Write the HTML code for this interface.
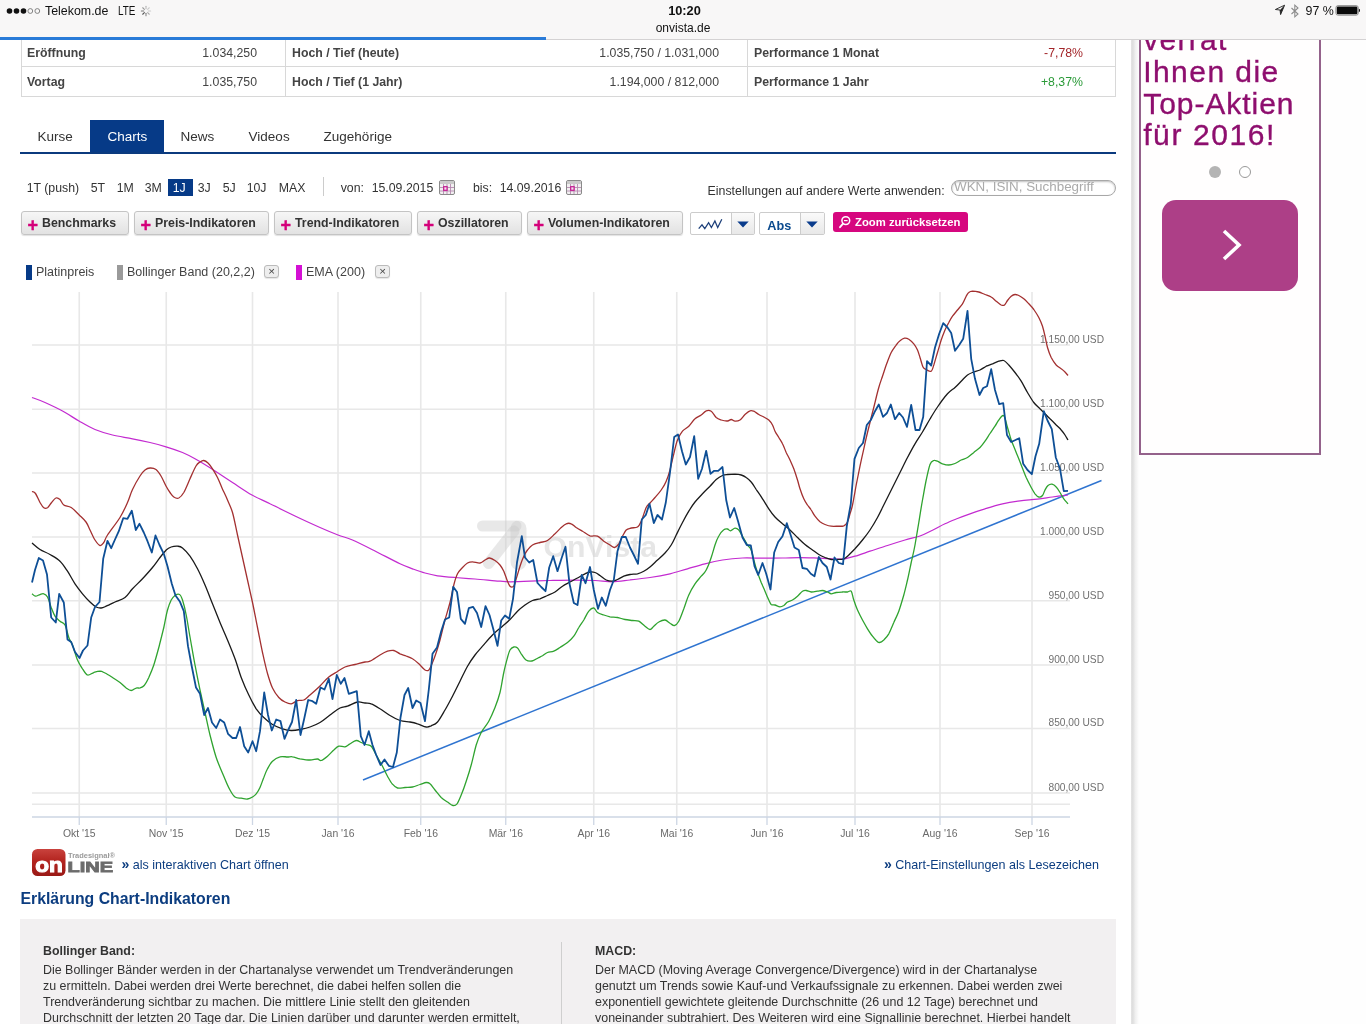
<!DOCTYPE html>
<html><head><meta charset="utf-8">
<style>
*{box-sizing:border-box;margin:0;padding:0}
html,body{width:1366px;height:1024px;overflow:hidden;background:#fff}
body{font-family:"Liberation Sans",sans-serif;color:#333;position:relative;will-change:transform}
.abs{position:absolute;white-space:nowrap}
#status{left:0;top:0;width:1366px;height:39px;background:#f8f7f7}
#prog{left:0;top:37px;width:546px;height:3px;background:#2a7bd8}
#progrest{left:546px;top:39px;width:820px;height:1px;background:#d4d2d3}
.sb{font-size:12.4px;color:#111;top:3.7px}
.tbl{border:1px solid #d6d6d6}
.t{font-size:12.3px;color:#444;line-height:16px}
.b{font-weight:bold}
.tab{font-size:13.5px;color:#333;top:128px;line-height:18px}
.rng{font-size:12.3px;color:#333;top:180px;line-height:16px}
.btn{top:211px;height:24px;border:1px solid #c4c4c4;border-radius:3px;background:linear-gradient(#f6f6f6,#e2e2e2);font-size:12.35px;font-weight:bold;color:#333;line-height:22px;box-shadow:0 1px 1px rgba(0,0,0,.12)}
.btn i{font-style:normal;color:#d4007a;font-size:18px;font-weight:bold;position:absolute;left:5.5px;top:2px;-webkit-text-stroke:.4px #d4007a;line-height:22px}
.btn span{position:absolute;left:20px;top:0}
.sel{top:212px;height:23px;border:1px solid #ccc;border-radius:2px;background:#fff}
.leg{font-size:12.5px;color:#444;top:264px;line-height:16px}
.xb{top:265px;width:15px;height:13px;border:1px solid #bbb;border-radius:3px;background:#eee;font-size:11.5px;line-height:11px;text-align:center;color:#444;font-weight:normal;box-shadow:0 1px 1px rgba(0,0,0,.1)}
.ex{font-size:12.44px;color:#333;line-height:16px}
</style></head><body>

<!-- status bar -->
<div id="status" class="abs"></div>
<div id="progrest" class="abs"></div>
<div id="prog" class="abs"></div>
<svg class="abs" style="left:6px;top:6px" width="36" height="10" viewBox="0 0 36 10">
<circle cx="3.5" cy="5" r="2.8" fill="#111"/><circle cx="10.5" cy="5" r="2.8" fill="#111"/><circle cx="17.5" cy="5" r="2.8" fill="#111"/>
<circle cx="24.3" cy="5" r="2.4" fill="none" stroke="#777" stroke-width="0.9"/><circle cx="31.3" cy="5" r="2.4" fill="none" stroke="#777" stroke-width="0.9"/></svg>
<div class="abs sb" style="left:45px">Telekom.de</div>
<div class="abs sb" style="left:117.5px;transform:scaleX(.8);transform-origin:0 0">LTE</div>
<svg class="abs" style="left:140px;top:5px" width="12" height="12" viewBox="-6 -6 12 12">
<g stroke="#999" stroke-width="1.1" stroke-linecap="round" transform="rotate(-135)">
<line x1="0" y1="-2.3" x2="0" y2="-4.6" stroke="#555"/><line x1="1.6" y1="-1.6" x2="3.3" y2="-3.3" stroke="#777"/><line x1="2.3" y1="0" x2="4.6" y2="0"/><line x1="1.6" y1="1.6" x2="3.3" y2="3.3" stroke="#bbb"/><line x1="0" y1="2.3" x2="0" y2="4.6" stroke="#ccc"/><line x1="-1.6" y1="1.6" x2="-3.3" y2="3.3" stroke="#ccc"/><line x1="-2.3" y1="0" x2="-4.6" y2="0" stroke="#aaa"/><line x1="-1.6" y1="-1.6" x2="-3.3" y2="-3.3" stroke="#888"/></g></svg>
<div class="abs" style="left:584.5px;width:200px;text-align:center;top:3px;font-size:12.8px;font-weight:bold;color:#111">10:20</div>
<div class="abs" style="left:583px;width:200px;text-align:center;top:21px;font-size:12px;color:#111">onvista.de</div>
<svg class="abs" style="left:1274px;top:4px" width="12" height="12" viewBox="0 0 12 12"><path d="M10.6 1.2L1.4 5.5L6 6L6.6 10.6Z" fill="none" stroke="#222" stroke-width="0.9" stroke-linejoin="round"/><path d="M10.6 1.2L6 6L6.6 10.6Z" fill="#222"/></svg>
<svg class="abs" style="left:1290px;top:3.5px" width="10" height="14" viewBox="0 0 10 14"><path d="M1.5 4L8 10L4.8 12.8V1.2L8 4L1.5 10" fill="none" stroke="#8a8a8a" stroke-width="1.05"/></svg>
<div class="abs sb" style="left:1305.5px">97 %</div>
<svg class="abs" style="left:1335px;top:5px" width="27" height="11" viewBox="0 0 27 11"><rect x="0.9" y="0.6" width="22.4" height="9.6" rx="2.2" fill="none" stroke="#777" stroke-width="0.8"/><rect x="1.8" y="1.5" width="20.6" height="7.8" rx="1.3" fill="#0a0a0a"/><path d="M23.9 3.7v3.4c1.5-.2 1.5-3.2 0-3.4z" fill="#111"/></svg>

<!-- table -->
<div class="abs" style="left:21px;top:40px;width:1095px;height:57px;border:1px solid #d8d8d8;border-top:none"></div>
<div class="abs" style="left:22px;top:66px;width:1093px;height:1px;background:#d8d8d8"></div>
<div class="abs" style="left:285px;top:40px;width:1px;height:56px;background:#d8d8d8"></div>
<div class="abs" style="left:747px;top:40px;width:1px;height:56px;background:#d8d8d8"></div>
<div class="abs t b" style="left:27px;top:45px">Eröffnung</div>
<div class="abs t b" style="left:27px;top:74px">Vortag</div>
<div class="abs t" style="left:157px;width:100px;text-align:right;top:45px">1.034,250</div>
<div class="abs t" style="left:157px;width:100px;text-align:right;top:74px">1.035,750</div>
<div class="abs t b" style="left:292px;top:45px">Hoch / Tief (heute)</div>
<div class="abs t b" style="left:292px;top:74px">Hoch / Tief (1 Jahr)</div>
<div class="abs t" style="left:519px;width:200px;text-align:right;top:45px">1.035,750 / 1.031,000</div>
<div class="abs t" style="left:519px;width:200px;text-align:right;top:74px">1.194,000 / 812,000</div>
<div class="abs t b" style="left:754px;top:45px">Performance 1 Monat</div>
<div class="abs t b" style="left:754px;top:74px">Performance 1 Jahr</div>
<div class="abs t" style="left:983px;width:100px;text-align:right;top:45px;color:#a3262a">-7,78%</div>
<div class="abs t" style="left:983px;width:100px;text-align:right;top:74px;color:#2a9a38">+8,37%</div>

<!-- tabs -->
<div class="abs" style="left:90px;top:120px;width:74px;height:33px;background:#063a87"></div>
<div class="abs" style="left:20px;top:152px;width:1096px;height:2px;background:#0b3a7e"></div>
<div class="abs tab" style="left:37.6px">Kurse</div>
<div class="abs tab" style="left:107.6px;color:#fff">Charts</div>
<div class="abs tab" style="left:180.6px">News</div>
<div class="abs tab" style="left:248.6px">Videos</div>
<div class="abs tab" style="left:323.6px">Zugehörige</div>

<!-- range -->
<div class="abs" style="left:168px;top:179px;width:25px;height:17px;background:#063a87"></div>
<div class="abs rng" style="left:26.7px">1T (push)</div>
<div class="abs rng" style="left:90.7px">5T</div>
<div class="abs rng" style="left:116.7px">1M</div>
<div class="abs rng" style="left:144.7px">3M</div>
<div class="abs rng" style="left:172.7px;color:#fff">1J</div>
<div class="abs rng" style="left:197.7px">3J</div>
<div class="abs rng" style="left:222.7px">5J</div>
<div class="abs rng" style="left:246.7px">10J</div>
<div class="abs rng" style="left:278.7px">MAX</div>
<div class="abs" style="left:323px;top:177px;width:1px;height:19px;background:#ccc"></div>
<div class="abs rng" style="left:340.7px">von:</div>
<div class="abs rng" style="left:371.7px">15.09.2015</div>
<div class="abs rng" style="left:473px">bis:</div>
<div class="abs rng" style="left:499.7px">14.09.2016</div>
<svg class="abs" style="left:438.5px;top:180.3px" width="16" height="15" viewBox="0 0 16 15"><rect x="0.5" y="0.5" width="15" height="14" rx="1.5" fill="#f1eff0" stroke="#8a8a8a"/><rect x="1" y="1" width="14" height="3" fill="#c9c9c9"/><path d="M1 7.5H15M1 11H15M4.5 4V14M8 4V14M11.5 4V14" stroke="#b58ab0" stroke-width="0.9"/><rect x="4.7" y="6.7" width="3.4" height="3.6" fill="#f6e0f0" stroke="#c2188f" stroke-width="1.2"/></svg><svg class="abs" style="left:566.0px;top:180.3px" width="16" height="15" viewBox="0 0 16 15"><rect x="0.5" y="0.5" width="15" height="14" rx="1.5" fill="#f1eff0" stroke="#8a8a8a"/><rect x="1" y="1" width="14" height="3" fill="#c9c9c9"/><path d="M1 7.5H15M1 11H15M4.5 4V14M8 4V14M11.5 4V14" stroke="#b58ab0" stroke-width="0.9"/><rect x="4.7" y="6.7" width="3.4" height="3.6" fill="#f6e0f0" stroke="#c2188f" stroke-width="1.2"/></svg>
<div class="abs" style="left:707.5px;top:183px;font-size:12.38px;color:#333;line-height:16px">Einstellungen auf andere Werte anwenden:</div>
<div class="abs" style="left:951px;top:180px;width:165px;height:16px;border:1px solid #a8a8a8;border-radius:8px;box-shadow:inset 0 1px 2px rgba(0,0,0,.25)"></div>
<div class="abs" style="left:954px;top:179px;font-size:13.4px;color:#aaa;line-height:16px">WKN, ISIN, Suchbegriff</div>

<!-- buttons -->
<div class="abs btn" style="left:21px;width:108px"><i>+</i><span>Benchmarks</span></div>
<div class="abs btn" style="left:134px;width:135px"><i>+</i><span>Preis-Indikatoren</span></div>
<div class="abs btn" style="left:274px;width:138px"><i>+</i><span>Trend-Indikatoren</span></div>
<div class="abs btn" style="left:417px;width:105px"><i>+</i><span>Oszillatoren</span></div>
<div class="abs btn" style="left:527px;width:156px"><i>+</i><span>Volumen-Indikatoren</span></div>
<div class="abs sel" style="left:690px;width:65px"></div>
<div class="abs" style="left:731px;top:213px;width:1px;height:21px;background:#ccc"></div>
<div class="abs" style="left:732px;top:213px;width:22px;height:21px;background:linear-gradient(#fafafa,#e8e8e8)"></div>
<svg class="abs" style="left:697px;top:217px" width="27" height="14" viewBox="697 217 27 14"><path d="M698.7 228.6L702 224.8L704.8 228.6L708.6 222.6L711.4 227.5L714.9 220.9L717.7 227.5L721.8 219.3" fill="none" stroke="#1c3f7a" stroke-width="1.25" stroke-linejoin="miter"/></svg>
<svg class="abs" style="left:737px;top:221px" width="12" height="7" viewBox="0 0 12 7"><path d="M0.3 0.4H11.7L6 6.6Z" fill="#0a3c8c"/></svg>
<div class="abs sel" style="left:759px;width:66px"></div>
<div class="abs" style="left:800px;top:213px;width:1px;height:21px;background:#ccc"></div>
<div class="abs" style="left:801px;top:213px;width:23px;height:21px;background:linear-gradient(#fafafa,#e8e8e8)"></div>
<div class="abs" style="left:767.3px;top:217.2px;font-size:12.7px;font-weight:bold;color:#0a4a8e;line-height:18px">Abs</div>
<svg class="abs" style="left:806px;top:221px" width="12" height="7" viewBox="0 0 12 7"><path d="M0.3 0.4H11.7L6 6.6Z" fill="#0a3c8c"/></svg>
<div class="abs" style="left:833px;top:212px;width:135px;height:20px;background:#d6077f;border-radius:3px"></div>
<svg class="abs" style="left:838px;top:215px" width="14" height="14" viewBox="0 0 14 14"><circle cx="7.8" cy="5.6" r="3.9" fill="none" stroke="#fff" stroke-width="1.5"/><path d="M5 8.6L2 12.2" stroke="#fff" stroke-width="1.8" stroke-linecap="round"/><path d="M6 5.6H9.6" stroke="#fff" stroke-width="1.2"/></svg>
<div class="abs" style="left:855px;top:214px;font-size:11.3px;font-weight:bold;color:#fff;line-height:16px">Zoom zurücksetzen</div>

<!-- legend -->
<div class="abs" style="left:26px;top:265px;width:6px;height:15px;background:#063a87"></div>
<div class="abs leg" style="left:36px">Platinpreis</div>
<div class="abs" style="left:117px;top:265px;width:6px;height:15px;background:#9a9a9a"></div>
<div class="abs leg" style="left:127px">Bollinger Band (20,2,2)</div>
<div class="abs xb" style="left:264px">×</div>
<div class="abs" style="left:296px;top:265px;width:6px;height:15px;background:#d410d4"></div>
<div class="abs leg" style="left:306px">EMA (200)</div>
<div class="abs xb" style="left:375px">×</div>

<!-- chart -->
<svg class="abs" style="left:0;top:0" width="1366" height="1024" viewBox="0 0 1366 1024">
<path d="M79.25 292V817M166.25 292V817M252.50 292V817M338.00 292V817M420.75 292V817M505.75 292V817M593.75 292V817M676.75 292V817M767.00 292V817M855.00 292V817M940.00 292V817M1032.00 292V817M32 345.00H1070M32 409.25H1070M32 473.00H1070M32 537.00H1070M32 600.75H1070M32 665.00H1070M32 728.50H1070M32 793.00H1070M32 804.25H1070" fill="none" stroke="#e8e8e8" stroke-width="1.6"/>
<path d="M32 817H1070M79.25 817V825M166.25 817V825M252.50 817V825M338.00 817V825M420.75 817V825M505.75 817V825M593.75 817V825M676.75 817V825M767.00 817V825M855.00 817V825M940.00 817V825M1032.00 817V825" fill="none" stroke="#cdd6e4" stroke-width="1.3"/>
<g fill="none" stroke="#c8c8c8" stroke-opacity="0.42" stroke-linecap="round"><path d="M482.5 526H516" stroke-width="11"/><path d="M518.5 528.5V562" stroke-width="16"/><path d="M514 531L488.5 563.5" stroke-width="11"/></g>
<text x="543.5" y="557.3" font-family="Liberation Sans" font-weight="bold" font-size="29" fill="#d2d2d2" fill-opacity="0.55" textLength="113.5" lengthAdjust="spacingAndGlyphs">OnVista</text>
<text x="79.2" y="836.6" font-size="10.4" fill="#6a6a6a" text-anchor="middle">Okt '15</text><text x="166.2" y="836.6" font-size="10.4" fill="#6a6a6a" text-anchor="middle">Nov '15</text><text x="252.5" y="836.6" font-size="10.4" fill="#6a6a6a" text-anchor="middle">Dez '15</text><text x="338.0" y="836.6" font-size="10.4" fill="#6a6a6a" text-anchor="middle">Jan '16</text><text x="420.8" y="836.6" font-size="10.4" fill="#6a6a6a" text-anchor="middle">Feb '16</text><text x="505.8" y="836.6" font-size="10.4" fill="#6a6a6a" text-anchor="middle">Mär '16</text><text x="593.8" y="836.6" font-size="10.4" fill="#6a6a6a" text-anchor="middle">Apr '16</text><text x="676.8" y="836.6" font-size="10.4" fill="#6a6a6a" text-anchor="middle">Mai '16</text><text x="767.0" y="836.6" font-size="10.4" fill="#6a6a6a" text-anchor="middle">Jun '16</text><text x="855.0" y="836.6" font-size="10.4" fill="#6a6a6a" text-anchor="middle">Jul '16</text><text x="940.0" y="836.6" font-size="10.4" fill="#6a6a6a" text-anchor="middle">Aug '16</text><text x="1032.0" y="836.6" font-size="10.4" fill="#6a6a6a" text-anchor="middle">Sep '16</text>
<text x="1104" y="342.8" font-size="10.2" fill="#707070" text-anchor="end">1.150,00 USD</text><text x="1104" y="407.1" font-size="10.2" fill="#707070" text-anchor="end">1.100,00 USD</text><text x="1104" y="470.8" font-size="10.2" fill="#707070" text-anchor="end">1.050,00 USD</text><text x="1104" y="534.8" font-size="10.2" fill="#707070" text-anchor="end">1.000,00 USD</text><text x="1104" y="598.5" font-size="10.2" fill="#707070" text-anchor="end">950,00 USD</text><text x="1104" y="662.8" font-size="10.2" fill="#707070" text-anchor="end">900,00 USD</text><text x="1104" y="726.3" font-size="10.2" fill="#707070" text-anchor="end">850,00 USD</text><text x="1104" y="790.8" font-size="10.2" fill="#707070" text-anchor="end">800,00 USD</text>
<path d="M363 780L1101.5 480.5" stroke="#2f74d0" stroke-width="1.5" fill="none"/>
<path d="M32.0 397.5C34.2 398.3 39.9 400.2 45.0 402.5C50.1 404.8 56.8 407.9 62.5 411.0C68.2 414.1 73.6 417.9 79.0 421.0C84.4 424.1 89.4 427.2 95.0 429.5C100.6 431.8 106.2 433.5 112.5 435.0C118.8 436.5 126.2 437.5 132.5 438.8C138.8 440.0 144.4 441.2 150.0 442.5C155.6 443.8 160.6 445.1 166.0 446.8C171.4 448.4 177.7 450.5 182.5 452.5C187.3 454.5 189.6 455.7 195.0 458.8C200.4 461.8 208.8 467.0 215.0 471.0C221.2 475.0 226.3 478.5 232.5 482.5C238.7 486.5 245.8 491.5 252.0 495.0C258.2 498.5 262.8 500.2 270.0 503.8C277.2 507.2 286.7 512.0 295.0 516.0C303.3 520.0 312.8 524.3 320.0 527.5C327.2 530.7 332.6 532.9 338.0 535.0C343.4 537.1 346.3 537.3 352.5 540.0C358.7 542.7 367.1 547.0 375.0 551.0C382.9 555.0 393.8 560.8 400.0 563.8C406.2 566.7 408.3 567.2 412.5 568.8C416.7 570.3 420.8 571.8 425.0 573.0C429.2 574.2 432.5 575.0 437.5 575.8C442.5 576.5 448.8 577.0 455.0 577.5C461.2 578.0 468.3 578.5 475.0 579.0C481.7 579.5 489.2 580.3 495.0 580.8C500.8 581.2 504.2 581.7 510.0 581.8C515.8 581.8 523.3 581.5 530.0 581.2C536.7 581.0 542.5 580.7 550.0 580.5C557.5 580.3 567.5 580.0 575.0 580.0C582.5 580.0 588.8 580.2 595.0 580.5C601.2 580.8 606.7 581.8 612.5 581.8C618.3 581.7 623.8 580.7 630.0 580.0C636.2 579.3 643.3 578.5 650.0 577.5C656.7 576.5 663.8 575.2 670.0 573.8C676.2 572.3 681.7 570.4 687.5 568.8C693.3 567.1 699.2 565.2 705.0 563.8C710.8 562.3 716.2 561.0 722.5 560.0C728.8 559.0 735.8 558.3 742.5 558.0C749.2 557.7 755.8 558.2 762.5 558.2C769.2 558.2 776.2 558.1 782.5 558.0C788.8 557.9 793.8 557.5 800.0 557.5C806.2 557.5 814.2 558.0 820.0 558.2C825.8 558.5 830.8 559.2 835.0 559.2C839.2 559.3 841.7 559.2 845.0 558.8C848.3 558.2 850.8 557.5 855.0 556.2C859.2 555.0 864.6 553.0 870.0 551.2C875.4 549.5 881.7 547.4 887.5 545.5C893.3 543.6 899.6 541.6 905.0 540.0C910.4 538.4 915.4 537.6 920.0 536.0C924.6 534.4 928.3 532.3 932.5 530.2C936.7 528.2 940.8 525.7 945.0 523.8C949.2 521.8 953.3 520.2 957.5 518.5C961.7 516.8 965.4 515.4 970.0 513.8C974.6 512.1 979.6 510.4 985.0 508.8C990.4 507.1 996.7 505.1 1002.5 503.8C1008.3 502.4 1014.2 501.5 1020.0 500.8C1025.8 500.0 1032.1 499.9 1037.5 499.2C1042.9 498.6 1047.4 497.7 1052.5 497.0C1057.6 496.3 1065.4 495.3 1068.0 495.0" fill="none" stroke="#c32bd0" stroke-width="1.25" stroke-linejoin="round"/>
<path d="M32.0 593.8C32.6 594.2 34.2 596.1 35.5 596.2C36.8 596.4 38.6 594.9 40.0 594.5C41.4 594.1 42.5 593.3 43.8 593.8C45.0 594.2 46.2 594.7 47.5 597.0C48.8 599.3 50.0 604.3 51.2 607.5C52.5 610.7 53.5 614.0 55.0 616.2C56.5 618.5 58.3 619.8 60.0 621.2C61.7 622.7 63.5 622.3 65.0 625.0C66.5 627.7 67.5 634.2 68.8 637.5C70.0 640.8 71.0 641.2 72.5 645.0C74.0 648.8 75.8 656.0 77.5 660.0C79.2 664.0 80.8 666.2 82.5 668.8C84.2 671.2 85.6 674.4 87.5 675.0C89.4 675.6 91.7 673.1 93.8 672.5C95.8 671.9 98.1 671.2 100.0 671.2C101.9 671.3 102.9 672.0 105.0 673.0C107.1 674.0 110.0 675.9 112.5 677.5C115.0 679.1 117.7 680.8 120.0 682.5C122.3 684.2 124.4 686.7 126.2 688.0C128.1 689.3 129.6 690.5 131.2 690.5C132.9 690.5 134.8 688.4 136.2 688.0C137.7 687.6 138.7 688.4 140.0 688.0C141.3 687.6 142.8 687.2 144.2 685.5C145.7 683.8 147.2 680.9 148.8 677.5C150.3 674.1 152.1 670.0 153.8 665.0C155.4 660.0 157.1 653.8 158.8 647.5C160.4 641.2 162.3 633.8 163.8 627.5C165.2 621.2 166.2 614.6 167.5 610.0C168.8 605.4 170.0 602.4 171.2 600.0C172.5 597.6 173.6 596.4 175.0 595.5C176.4 594.6 178.2 593.8 179.5 594.5C180.8 595.2 181.4 596.6 182.5 600.0C183.6 603.4 185.0 608.8 186.2 615.0C187.5 621.2 188.5 628.7 190.0 637.0C191.5 645.3 193.3 656.2 195.0 665.0C196.7 673.8 198.3 682.1 200.0 690.0C201.7 697.9 203.3 705.0 205.0 712.5C206.7 720.0 208.1 727.5 210.0 735.0C211.9 742.5 214.0 750.6 216.2 757.5C218.5 764.4 221.5 770.8 223.8 776.2C226.0 781.7 228.1 786.5 230.0 790.0C231.9 793.5 233.1 795.6 235.0 797.0C236.9 798.4 239.2 797.9 241.2 798.2C243.3 798.6 245.6 799.2 247.5 799.0C249.4 798.8 251.0 797.9 252.5 797.0C254.0 796.1 255.0 795.3 256.2 793.8C257.5 792.2 258.8 790.2 260.0 787.5C261.2 784.8 262.5 780.6 263.8 777.5C265.0 774.4 266.0 771.5 267.5 768.8C269.0 766.0 270.4 763.2 272.5 761.2C274.6 759.2 277.5 757.5 280.0 756.8C282.5 756.0 285.4 757.0 287.5 757.0C289.6 757.0 290.4 756.5 292.5 756.8C294.6 757.0 297.1 758.2 300.0 758.8C302.9 759.3 307.1 760.0 310.0 760.0C312.9 760.0 315.6 758.9 317.5 759.0C319.4 759.1 319.6 761.0 321.2 760.5C322.9 760.0 325.4 758.0 327.5 756.2C329.6 754.5 331.9 751.7 333.8 750.0C335.6 748.3 336.9 746.8 338.8 746.2C340.6 745.7 343.1 747.2 345.0 746.8C346.9 746.3 348.1 744.8 350.0 743.8C351.9 742.7 354.4 740.7 356.2 740.5C358.1 740.3 359.6 741.8 361.2 742.5C362.9 743.2 364.6 743.9 366.2 744.5C367.9 745.1 369.6 744.5 371.2 746.2C372.9 748.0 374.4 751.7 376.2 755.0C378.1 758.3 380.6 762.7 382.5 766.2C384.4 769.8 385.8 773.2 387.5 776.2C389.2 779.2 390.8 782.3 392.5 784.2C394.2 786.2 395.4 787.5 397.5 788.0C399.6 788.5 402.5 787.7 405.0 787.5C407.5 787.3 410.0 787.5 412.5 787.0C415.0 786.5 417.7 785.2 420.0 784.5C422.3 783.8 424.6 782.6 426.2 782.5C427.9 782.4 428.5 782.5 430.0 783.8C431.5 785.0 433.1 787.7 435.0 790.0C436.9 792.3 439.2 795.5 441.2 797.5C443.3 799.5 445.5 800.7 447.5 802.0C449.5 803.3 451.4 805.2 453.0 805.5C454.6 805.8 455.6 805.5 457.0 803.8C458.4 802.0 459.7 798.8 461.2 795.0C462.8 791.2 464.6 786.2 466.2 781.2C467.9 776.2 469.6 771.0 471.2 765.0C472.9 759.0 474.6 750.4 476.2 745.0C477.9 739.6 479.2 736.5 481.2 732.5C483.3 728.5 486.5 725.4 488.8 721.2C491.0 717.1 493.1 712.3 495.0 707.5C496.9 702.7 498.5 698.3 500.0 692.5C501.5 686.7 502.5 678.3 503.8 672.5C505.0 666.7 506.5 661.2 507.5 657.5C508.5 653.8 509.0 651.8 510.0 650.0C511.0 648.2 512.5 647.3 513.8 647.0C515.0 646.7 516.2 646.9 517.5 648.0C518.8 649.1 519.8 651.8 521.2 653.8C522.7 655.8 524.2 658.8 526.0 660.0C527.8 661.2 530.0 661.3 532.0 661.0C534.0 660.7 536.2 658.9 538.0 658.0C539.8 657.1 540.9 656.7 542.5 655.8C544.1 654.8 545.6 653.2 547.5 652.5C549.4 651.8 551.7 652.1 553.8 651.2C555.8 650.4 557.7 649.0 560.0 647.5C562.3 646.0 565.2 644.4 567.5 642.5C569.8 640.6 571.9 638.8 573.8 636.2C575.6 633.8 577.1 630.2 578.8 627.5C580.4 624.8 582.1 622.7 583.8 620.0C585.4 617.3 587.1 613.2 588.8 611.2C590.4 609.2 592.3 607.8 593.8 608.0C595.2 608.2 595.8 611.3 597.5 612.5C599.2 613.7 601.7 614.3 603.8 615.0C605.8 615.7 607.7 616.3 610.0 616.8C612.3 617.2 615.0 617.0 617.5 617.5C620.0 618.0 622.5 619.0 625.0 619.5C627.5 620.0 630.2 620.2 632.5 620.5C634.8 620.8 636.7 620.3 638.8 621.2C640.8 622.2 643.1 624.9 645.0 626.2C646.9 627.6 648.5 629.5 650.0 629.5C651.5 629.5 652.3 627.5 653.8 626.2C655.2 625.0 656.9 623.0 658.8 622.0C660.6 621.0 663.1 619.8 665.0 620.0C666.9 620.2 668.4 622.3 670.0 623.2C671.6 624.2 673.0 625.8 674.5 625.5C676.0 625.2 677.2 624.0 678.8 621.2C680.3 618.5 682.1 613.1 683.8 608.8C685.4 604.4 686.9 599.2 688.8 595.0C690.6 590.8 692.9 586.9 695.0 583.8C697.1 580.6 699.4 578.5 701.2 576.2C703.1 574.0 704.6 573.1 706.2 570.0C707.9 566.9 709.8 561.7 711.2 557.5C712.7 553.3 713.8 548.6 715.0 545.0C716.2 541.4 717.3 538.5 718.8 536.0C720.2 533.5 722.3 530.9 723.8 529.8C725.2 528.6 726.4 528.8 727.5 529.0C728.6 529.2 729.2 530.9 730.5 530.8C731.8 530.6 733.6 528.4 735.0 528.2C736.4 528.1 737.5 528.7 738.8 530.0C740.0 531.3 741.0 533.8 742.5 536.2C744.0 538.8 746.0 542.7 747.5 545.0C749.0 547.3 750.2 547.5 751.2 550.0C752.3 552.5 752.7 556.2 753.8 560.0C754.8 563.8 756.2 568.8 757.5 572.5C758.8 576.2 760.0 579.4 761.2 582.5C762.5 585.6 763.8 588.3 765.0 591.2C766.2 594.2 767.7 597.8 768.8 600.0C769.8 602.2 770.2 603.7 771.2 604.5C772.3 605.3 773.5 604.6 775.0 605.0C776.5 605.4 778.5 606.7 780.0 606.8C781.5 606.8 782.5 606.3 783.8 605.5C785.0 604.7 786.0 602.9 787.5 602.0C789.0 601.1 790.8 601.0 792.5 600.0C794.2 599.0 795.8 597.7 797.5 596.2C799.2 594.8 801.0 592.2 802.5 591.2C804.0 590.3 804.8 590.4 806.2 590.5C807.7 590.6 809.4 591.9 811.2 592.0C813.1 592.1 815.6 591.5 817.5 591.2C819.4 591.0 820.8 590.4 822.5 590.5C824.2 590.6 826.0 591.5 827.5 592.0C829.0 592.5 829.8 593.7 831.2 593.8C832.7 593.8 834.4 592.8 836.2 592.5C838.1 592.2 840.6 592.1 842.5 592.0C844.4 591.9 846.0 592.1 847.5 592.0C849.0 591.9 850.2 589.9 851.2 591.2C852.3 592.6 852.7 596.9 853.8 600.0C854.8 603.1 856.0 606.7 857.5 610.0C859.0 613.3 860.8 616.9 862.5 620.0C864.2 623.1 865.8 626.0 867.5 628.8C869.2 631.5 871.0 634.3 872.5 636.2C874.0 638.2 875.1 639.5 876.2 640.5C877.4 641.5 878.2 642.6 879.5 642.5C880.8 642.4 882.2 641.5 883.8 640.0C885.3 638.5 887.1 636.7 888.8 633.8C890.4 630.8 892.1 626.2 893.8 622.5C895.4 618.8 897.1 615.8 898.8 611.2C900.4 606.7 902.3 600.2 903.8 595.0C905.2 589.8 906.2 585.4 907.5 580.0C908.8 574.6 910.0 568.3 911.2 562.5C912.5 556.7 913.8 551.7 915.0 545.0C916.2 538.3 917.5 530.0 918.8 522.5C920.0 515.0 921.2 507.1 922.5 500.0C923.8 492.9 925.0 485.9 926.2 480.0C927.5 474.1 928.8 467.8 930.0 464.5C931.2 461.2 932.5 461.0 933.8 460.5C935.0 460.0 936.0 460.7 937.5 461.2C939.0 461.8 940.6 463.1 942.5 463.8C944.4 464.4 946.7 465.0 948.8 465.0C950.8 465.0 952.9 464.3 955.0 463.5C957.1 462.7 959.2 461.0 961.2 460.0C963.3 459.0 965.4 458.8 967.5 457.5C969.6 456.2 971.7 454.2 973.8 452.5C975.8 450.8 978.1 449.4 980.0 447.5C981.9 445.6 983.3 443.6 985.0 441.2C986.7 438.9 988.3 436.0 990.0 433.5C991.7 431.0 993.5 428.5 995.0 426.2C996.5 424.0 997.3 421.8 998.8 420.0C1000.2 418.2 1002.3 414.5 1003.8 415.8C1005.2 417.0 1006.2 423.5 1007.5 427.5C1008.8 431.5 1009.8 435.8 1011.2 440.0C1012.7 444.2 1014.6 448.3 1016.2 452.5C1017.9 456.7 1019.6 460.8 1021.2 465.0C1022.9 469.2 1024.6 473.8 1026.2 477.5C1027.9 481.2 1029.8 484.8 1031.2 487.5C1032.7 490.2 1033.8 492.2 1035.0 493.8C1036.2 495.3 1037.5 496.7 1038.8 497.0C1040.0 497.3 1041.5 496.7 1042.5 495.5C1043.5 494.3 1044.1 491.7 1045.0 490.0C1045.9 488.3 1046.8 486.5 1048.0 485.5C1049.2 484.5 1050.6 484.0 1052.0 484.2C1053.4 484.5 1054.9 485.6 1056.2 487.0C1057.6 488.4 1058.8 490.5 1060.0 492.5C1061.2 494.5 1062.4 496.9 1063.8 498.8C1065.1 500.6 1067.3 502.9 1068.0 503.8" fill="none" stroke="#2fa32f" stroke-width="1.3" stroke-linejoin="round"/>
<path d="M32.0 491.5C32.6 491.8 34.2 491.7 35.5 493.5C36.8 495.3 38.6 500.1 40.0 502.5C41.4 504.9 42.5 506.9 43.8 507.8C45.0 508.6 46.2 508.5 47.5 507.8C48.8 507.0 49.9 504.6 51.2 503.0C52.6 501.4 54.3 498.6 55.8 498.0C57.2 497.4 58.7 498.3 60.0 499.5C61.3 500.7 61.9 503.7 63.8 505.0C65.6 506.3 68.7 505.8 71.2 507.5C73.8 509.2 76.8 512.6 79.2 515.0C81.7 517.4 84.2 519.5 86.0 522.0C87.8 524.5 88.5 527.0 90.0 530.0C91.5 533.0 93.3 537.4 95.0 540.0C96.7 542.6 98.5 545.1 100.0 545.5C101.5 545.9 102.5 544.2 103.8 542.5C105.0 540.8 104.8 539.2 107.5 535.0C110.2 530.8 116.7 522.9 120.0 517.5C123.3 512.1 125.4 507.2 127.5 502.5C129.6 497.8 130.4 493.9 132.5 489.5C134.6 485.1 137.9 479.2 140.0 476.0C142.1 472.8 143.3 471.3 145.0 470.0C146.7 468.7 148.2 468.1 150.0 468.0C151.8 467.9 154.2 468.2 156.0 469.5C157.8 470.8 159.3 473.2 161.0 476.0C162.7 478.8 164.5 483.2 166.0 486.0C167.5 488.8 168.7 490.7 170.0 492.5C171.3 494.3 172.3 496.1 173.8 497.0C175.2 497.9 177.1 498.8 178.8 498.0C180.4 497.2 181.9 495.7 183.8 492.5C185.6 489.3 188.0 483.2 190.0 478.8C192.0 474.3 194.3 468.8 196.0 466.0C197.7 463.2 198.7 462.9 200.0 462.0C201.3 461.1 202.4 460.3 203.8 460.5C205.1 460.7 206.5 461.6 208.0 463.0C209.5 464.4 210.9 466.3 212.5 468.8C214.1 471.2 215.9 474.3 217.5 477.5C219.1 480.7 220.3 484.2 222.0 488.0C223.7 491.8 225.8 495.9 227.5 500.0C229.2 504.1 230.8 506.7 232.5 512.5C234.2 518.3 235.8 527.5 237.5 535.0C239.2 542.5 240.8 550.0 242.5 557.5C244.2 565.0 245.8 572.5 247.5 580.0C249.2 587.5 250.8 594.6 252.5 602.5C254.2 610.4 255.8 619.2 257.5 627.5C259.2 635.8 260.8 644.8 262.5 652.5C264.2 660.2 265.8 667.6 267.5 673.5C269.2 679.4 270.6 684.0 272.5 688.0C274.4 692.0 276.7 695.2 278.8 697.5C280.8 699.8 282.9 701.0 285.0 702.0C287.1 703.0 289.2 704.0 291.2 703.8C293.3 703.5 295.4 701.1 297.5 700.5C299.6 699.9 301.7 700.9 303.8 700.0C305.8 699.1 307.3 697.3 310.0 695.0C312.7 692.7 316.9 689.0 320.0 686.0C323.1 683.0 325.8 679.4 328.8 677.0C331.7 674.6 334.8 673.2 337.5 671.5C340.2 669.8 342.1 668.2 345.0 667.0C347.9 665.8 351.7 665.3 355.0 664.5C358.3 663.7 362.5 662.5 365.0 662.0C367.5 661.5 367.5 662.4 370.0 661.2C372.5 660.1 377.1 656.7 380.0 655.0C382.9 653.3 385.2 652.0 387.5 651.2C389.8 650.5 391.7 650.1 393.8 650.5C395.8 650.9 397.9 652.8 400.0 653.8C402.1 654.7 404.2 655.2 406.2 656.0C408.3 656.8 410.4 657.5 412.5 658.8C414.6 660.0 416.7 661.9 418.8 663.8C420.8 665.6 423.3 669.0 425.0 670.0C426.7 671.0 427.5 671.2 428.8 670.0C430.0 668.8 431.2 665.4 432.5 662.5C433.8 659.6 435.0 656.2 436.2 652.5C437.5 648.8 438.5 645.4 440.0 640.0C441.5 634.6 443.3 626.2 445.0 620.0C446.7 613.8 448.5 608.3 450.0 602.5C451.5 596.7 452.5 589.8 453.8 585.0C455.0 580.2 456.0 576.7 457.5 573.8C459.0 570.8 460.8 569.3 462.5 567.5C464.2 565.7 465.8 564.0 467.5 563.0C469.2 562.0 470.4 561.8 472.5 561.8C474.6 561.8 477.9 563.3 480.0 563.0C482.1 562.7 483.4 560.8 485.0 560.0C486.6 559.2 487.8 557.9 489.5 558.0C491.2 558.1 493.2 559.3 495.0 560.5C496.8 561.7 498.5 563.2 500.0 565.0C501.5 566.8 502.6 568.8 503.8 571.2C504.9 573.8 506.0 577.5 507.0 580.0C508.0 582.5 508.9 585.2 510.0 586.2C511.1 587.3 512.7 587.5 513.8 586.2C514.8 585.0 515.2 582.1 516.2 578.8C517.3 575.4 518.8 570.0 520.0 566.2C521.2 562.5 522.5 559.0 523.8 556.2C525.0 553.5 526.0 551.9 527.5 550.0C529.0 548.1 530.4 546.2 532.5 545.0C534.6 543.8 537.5 543.2 540.0 542.5C542.5 541.8 545.0 542.0 547.5 540.5C550.0 539.0 552.7 535.9 555.0 533.8C557.3 531.6 559.4 529.2 561.2 527.5C563.1 525.8 564.6 524.4 566.2 523.8C567.9 523.1 569.6 523.1 571.2 523.8C572.9 524.4 574.4 526.2 576.2 527.5C578.1 528.8 580.2 529.9 582.5 531.2C584.8 532.6 587.5 534.9 590.0 535.8C592.5 536.6 595.2 535.3 597.5 536.2C599.8 537.2 601.7 539.8 603.8 541.2C605.8 542.7 608.2 544.0 610.0 545.0C611.8 546.0 613.0 547.7 614.5 547.5C616.0 547.3 617.4 545.6 618.8 543.8C620.1 541.9 621.2 538.5 622.5 536.2C623.8 534.0 624.8 531.4 626.2 530.0C627.7 528.6 629.4 528.5 631.2 528.0C633.1 527.5 635.8 528.1 637.5 527.0C639.2 525.9 639.8 524.5 641.2 521.2C642.7 518.0 644.8 510.5 646.2 507.5C647.7 504.5 648.5 504.7 650.0 503.0C651.5 501.3 653.1 499.7 655.0 497.5C656.9 495.3 659.4 492.7 661.2 490.0C663.1 487.3 664.8 484.6 666.2 481.2C667.7 477.9 668.8 474.6 670.0 470.0C671.2 465.4 672.5 458.8 673.8 453.8C675.0 448.8 676.0 443.8 677.5 440.0C679.0 436.2 680.6 433.5 682.5 431.2C684.4 429.0 686.7 428.3 688.8 426.2C690.8 424.2 692.9 420.6 695.0 418.8C697.1 416.9 699.4 416.3 701.2 415.0C703.1 413.7 704.6 411.4 706.2 410.8C707.9 410.1 709.6 410.1 711.2 411.2C712.9 412.4 714.6 416.0 716.2 417.5C717.9 419.0 719.4 419.4 721.2 420.0C723.1 420.6 725.8 421.1 727.5 421.0C729.2 420.9 730.0 419.5 731.2 419.5C732.5 419.5 733.5 421.2 735.0 421.2C736.5 421.3 738.3 421.1 740.0 420.0C741.7 418.9 743.3 416.0 745.0 414.5C746.7 413.0 748.5 411.3 750.0 410.8C751.5 410.2 752.3 410.6 753.8 411.2C755.2 411.9 757.1 413.5 758.8 414.5C760.4 415.5 762.1 416.1 763.8 417.0C765.4 417.9 767.3 418.7 768.8 420.0C770.2 421.3 771.5 423.1 772.5 425.0C773.5 426.9 774.0 429.2 775.0 431.2C776.0 433.3 777.5 435.4 778.8 437.5C780.0 439.6 781.2 441.2 782.5 443.8C783.8 446.2 785.0 449.8 786.2 452.5C787.5 455.2 788.8 457.3 790.0 460.0C791.2 462.7 792.5 465.4 793.8 468.8C795.0 472.1 796.5 476.7 797.5 480.0C798.5 483.3 799.0 485.6 800.0 488.8C801.0 491.9 802.5 496.0 803.8 498.8C805.0 501.5 806.2 503.1 807.5 505.0C808.8 506.9 810.0 508.1 811.2 510.0C812.5 511.9 813.5 514.3 815.0 516.2C816.5 518.2 818.3 520.4 820.0 521.8C821.7 523.1 823.1 523.8 825.0 524.5C826.9 525.2 829.2 526.0 831.2 526.2C833.3 526.5 835.4 526.3 837.5 526.2C839.6 526.2 842.1 526.5 843.8 525.8C845.4 525.0 846.5 524.0 847.5 522.0C848.5 520.0 849.2 516.6 850.0 513.8C850.8 510.9 851.5 509.8 852.5 505.0C853.5 500.2 855.0 491.5 856.2 485.0C857.5 478.5 858.8 472.3 860.0 466.2C861.2 460.2 862.5 454.4 863.8 448.8C865.0 443.1 866.2 437.7 867.5 432.5C868.8 427.3 870.0 422.5 871.2 417.5C872.5 412.5 873.8 407.5 875.0 402.5C876.2 397.5 877.5 391.9 878.8 387.5C880.0 383.1 881.2 380.0 882.5 376.2C883.8 372.5 884.8 369.0 886.2 365.0C887.7 361.0 889.6 355.8 891.2 352.5C892.9 349.2 894.8 347.0 896.2 345.0C897.7 343.0 898.6 341.9 900.0 340.8C901.4 339.6 903.0 338.5 904.5 338.2C906.0 338.0 907.2 338.3 908.8 339.2C910.3 340.2 912.3 342.0 913.8 343.8C915.2 345.5 916.5 347.7 917.5 350.0C918.5 352.3 919.1 354.7 920.0 357.5C920.9 360.3 922.0 365.0 923.0 367.0C924.0 369.0 924.9 368.8 926.2 369.5C927.6 370.2 930.0 372.0 931.2 371.2C932.5 370.5 932.7 368.1 933.8 365.0C934.8 361.9 936.2 356.7 937.5 352.5C938.8 348.3 940.0 343.8 941.2 340.0C942.5 336.2 943.8 332.9 945.0 330.0C946.2 327.1 947.5 324.8 948.8 322.5C950.0 320.2 951.0 318.3 952.5 316.2C954.0 314.2 955.8 312.1 957.5 310.0C959.2 307.9 961.0 306.0 962.5 303.8C964.0 301.5 965.2 298.1 966.2 296.2C967.3 294.4 967.7 293.3 968.8 292.5C969.8 291.7 970.8 291.3 972.5 291.2C974.2 291.2 976.7 291.5 978.8 292.0C980.8 292.5 982.9 293.7 985.0 294.5C987.1 295.3 989.4 295.9 991.2 297.0C993.1 298.1 994.6 299.9 996.2 301.2C997.9 302.6 999.9 304.4 1001.2 305.0C1002.6 305.6 1003.5 305.8 1004.5 305.0C1005.5 304.2 1006.4 302.0 1007.5 300.5C1008.6 299.0 1010.0 297.2 1011.2 296.2C1012.5 295.2 1013.8 294.6 1015.0 294.5C1016.2 294.4 1017.3 294.8 1018.8 295.5C1020.2 296.2 1022.1 297.4 1023.8 298.8C1025.4 300.1 1027.1 302.0 1028.8 303.8C1030.4 305.5 1032.1 307.2 1033.8 309.5C1035.4 311.8 1037.3 314.7 1038.8 317.5C1040.2 320.3 1041.5 323.1 1042.5 326.2C1043.5 329.4 1044.2 332.7 1045.0 336.2C1045.8 339.8 1046.5 344.0 1047.5 347.5C1048.5 351.0 1049.8 354.6 1051.2 357.5C1052.7 360.4 1054.6 363.1 1056.2 365.0C1057.9 366.9 1059.8 367.6 1061.2 368.8C1062.7 369.9 1063.9 370.9 1065.0 372.0C1066.1 373.1 1067.5 374.9 1068.0 375.5" fill="none" stroke="#a33030" stroke-width="1.3" stroke-linejoin="round"/>
<path d="M32.0 543.0C33.3 544.1 37.0 547.6 40.0 549.5C43.0 551.4 46.7 552.5 50.0 554.5C53.3 556.5 57.1 558.5 60.0 561.2C62.9 564.0 65.0 567.5 67.5 571.2C70.0 575.0 72.5 580.0 75.0 583.8C77.5 587.5 80.0 590.7 82.5 593.8C85.0 596.8 87.7 599.8 90.0 602.0C92.3 604.2 94.4 606.0 96.2 607.0C98.1 608.0 99.6 608.1 101.2 608.0C102.9 607.9 104.0 607.2 106.2 606.2C108.5 605.2 111.9 603.5 115.0 602.0C118.1 600.5 122.1 599.7 125.0 597.5C127.9 595.3 129.6 591.9 132.5 588.8C135.4 585.6 139.2 582.3 142.5 578.8C145.8 575.2 149.6 571.0 152.5 567.5C155.4 564.0 157.7 560.4 160.0 557.5C162.3 554.6 164.4 551.8 166.2 550.0C168.1 548.2 169.4 547.6 171.2 547.0C173.1 546.4 175.6 546.1 177.5 546.2C179.4 546.4 180.4 546.3 182.5 548.0C184.6 549.7 187.5 552.8 190.0 556.2C192.5 559.7 195.0 564.0 197.5 568.8C200.0 573.5 202.5 579.2 205.0 585.0C207.5 590.8 210.0 597.5 212.5 603.8C215.0 610.0 217.5 616.5 220.0 622.5C222.5 628.5 225.0 634.0 227.5 640.0C230.0 646.0 232.7 652.5 235.0 658.8C237.3 665.0 239.0 671.5 241.2 677.5C243.5 683.5 246.2 689.8 248.8 695.0C251.2 700.2 253.8 705.0 256.2 708.8C258.8 712.5 261.0 714.9 263.8 717.5C266.5 720.1 269.4 722.6 272.5 724.5C275.6 726.4 279.4 727.8 282.5 728.8C285.6 729.8 288.3 730.4 291.2 730.5C294.2 730.6 296.9 730.1 300.0 729.5C303.1 728.9 306.7 728.2 310.0 727.0C313.3 725.8 316.7 724.5 320.0 722.5C323.3 720.5 326.7 717.4 330.0 715.0C333.3 712.6 337.1 709.5 340.0 708.0C342.9 706.5 344.6 707.2 347.5 706.2C350.4 705.2 354.6 702.5 357.5 702.0C360.4 701.5 362.7 702.7 365.0 703.0C367.3 703.3 368.8 702.8 371.2 703.8C373.8 704.7 376.9 706.8 380.0 708.8C383.1 710.7 386.7 713.5 390.0 715.5C393.3 717.5 396.7 719.4 400.0 720.5C403.3 721.6 407.1 721.5 410.0 722.0C412.9 722.5 414.8 722.9 417.5 723.8C420.2 724.6 424.0 726.7 426.2 727.0C428.5 727.3 429.4 726.6 431.2 725.8C433.1 724.9 435.2 724.6 437.5 722.0C439.8 719.4 442.5 714.3 445.0 710.0C447.5 705.7 450.0 701.0 452.5 696.2C455.0 691.5 457.5 686.2 460.0 681.2C462.5 676.2 465.0 670.6 467.5 666.2C470.0 661.9 472.5 658.3 475.0 655.0C477.5 651.7 479.6 649.6 482.5 646.2C485.4 642.9 489.2 638.3 492.5 635.0C495.8 631.7 499.6 628.8 502.5 626.2C505.4 623.7 507.5 622.0 510.0 619.5C512.5 617.0 515.0 613.7 517.5 611.2C520.0 608.8 522.5 606.8 525.0 605.0C527.5 603.2 530.0 601.5 532.5 600.5C535.0 599.5 537.5 599.6 540.0 598.8C542.5 597.9 545.0 596.6 547.5 595.5C550.0 594.4 552.5 593.5 555.0 592.0C557.5 590.5 560.0 587.9 562.5 586.2C565.0 584.6 567.5 583.4 570.0 582.0C572.5 580.6 575.0 579.4 577.5 578.0C580.0 576.6 582.9 574.8 585.0 573.8C587.1 572.8 588.3 572.2 590.0 572.0C591.7 571.8 593.3 571.9 595.0 572.5C596.7 573.1 598.1 574.2 600.0 575.5C601.9 576.8 604.2 579.0 606.2 580.0C608.3 581.0 610.6 581.3 612.5 581.2C614.4 581.2 615.6 580.3 617.5 579.5C619.4 578.7 621.7 577.1 623.8 576.2C625.8 575.4 627.7 574.9 630.0 574.5C632.3 574.1 635.2 574.3 637.5 573.8C639.8 573.2 641.7 572.4 643.8 571.2C645.8 570.1 647.7 568.9 650.0 567.0C652.3 565.1 655.0 562.3 657.5 560.0C660.0 557.7 662.7 555.5 665.0 553.0C667.3 550.5 669.4 548.0 671.2 545.0C673.1 542.0 674.4 538.8 676.2 535.0C678.1 531.2 680.4 526.5 682.5 522.5C684.6 518.5 686.7 514.7 688.8 511.2C690.8 507.8 692.7 504.9 695.0 502.0C697.3 499.1 700.0 496.4 702.5 493.8C705.0 491.1 707.7 488.6 710.0 486.2C712.3 483.9 714.2 481.3 716.2 479.5C718.3 477.7 720.6 476.3 722.5 475.5C724.4 474.7 725.4 474.7 727.5 474.5C729.6 474.3 732.7 474.2 735.0 474.2C737.3 474.3 739.4 474.5 741.2 475.0C743.1 475.5 744.6 476.3 746.2 477.5C747.9 478.7 749.6 480.0 751.2 482.0C752.9 484.0 754.4 486.7 756.2 489.5C758.1 492.3 760.4 495.5 762.5 498.8C764.6 502.0 766.7 505.7 768.8 508.8C770.8 511.8 772.7 514.5 775.0 517.0C777.3 519.5 780.0 521.6 782.5 523.8C785.0 525.9 787.5 527.7 790.0 530.0C792.5 532.3 795.0 535.1 797.5 537.5C800.0 539.9 802.5 542.4 805.0 544.5C807.5 546.6 810.2 548.3 812.5 550.0C814.8 551.7 816.7 553.2 818.8 554.5C820.8 555.8 822.9 556.7 825.0 557.5C827.1 558.3 829.2 559.2 831.2 559.5C833.3 559.8 835.4 559.6 837.5 559.5C839.6 559.4 841.9 559.5 843.8 558.8C845.6 558.0 846.9 556.7 848.8 555.0C850.6 553.3 852.7 551.2 855.0 548.8C857.3 546.2 860.0 543.1 862.5 540.0C865.0 536.9 867.5 533.8 870.0 530.0C872.5 526.2 875.0 522.1 877.5 517.5C880.0 512.9 882.5 507.5 885.0 502.5C887.5 497.5 890.0 492.5 892.5 487.5C895.0 482.5 897.5 477.5 900.0 472.5C902.5 467.5 905.0 462.3 907.5 457.5C910.0 452.7 912.5 448.0 915.0 443.8C917.5 439.5 920.0 436.1 922.5 432.0C925.0 427.9 927.5 423.2 930.0 419.0C932.5 414.8 934.6 411.2 937.5 407.0C940.4 402.8 944.6 397.0 947.5 393.8C950.4 390.5 952.7 389.6 955.0 387.5C957.3 385.4 959.2 383.3 961.2 381.2C963.3 379.2 965.4 376.5 967.5 375.0C969.6 373.5 971.7 372.8 973.8 372.0C975.8 371.2 977.9 371.0 980.0 370.0C982.1 369.0 984.2 367.3 986.2 366.2C988.3 365.2 990.4 364.6 992.5 363.8C994.6 362.9 996.9 361.8 998.8 361.2C1000.6 360.7 1002.1 359.9 1003.8 360.5C1005.4 361.1 1006.9 363.0 1008.8 365.0C1010.6 367.0 1012.9 369.8 1015.0 372.5C1017.1 375.2 1019.2 377.9 1021.2 381.2C1023.3 384.6 1025.4 389.0 1027.5 392.5C1029.6 396.0 1031.7 399.8 1033.8 402.5C1035.8 405.2 1038.1 406.9 1040.0 408.8C1041.9 410.6 1043.3 412.1 1045.0 413.8C1046.7 415.4 1048.1 416.9 1050.0 418.8C1051.9 420.6 1054.4 423.1 1056.2 425.0C1058.1 426.9 1059.8 428.3 1061.2 430.0C1062.7 431.7 1063.9 433.3 1065.0 435.0C1066.1 436.7 1067.5 439.2 1068.0 440.0" fill="none" stroke="#1a1a1a" stroke-width="1.3" stroke-linejoin="round"/>
<path d="M32.0 582.5L35.0 570.0L38.8 558.0L43.0 560.5L47.0 574.5L51.2 617.5L55.8 622.5L59.2 593.8L63.8 602.5L67.5 639.5L71.2 642.0L75.0 652.0L79.5 658.0L83.0 650.5L87.5 645.5L91.2 617.5L95.0 607.0L99.5 602.0L103.2 558.8L107.5 540.8L111.2 548.2L115.0 539.5L118.8 531.2L123.2 518.2L127.5 518.8L131.8 510.8L135.8 530.0L139.5 523.8L143.8 532.5L147.5 541.2L151.8 552.5L155.5 535.5L159.5 545.0L163.8 553.8L167.5 566.2L171.8 583.8L175.5 595.5L180.0 601.8L183.8 611.2L188.0 646.2L191.5 665.0L196.0 687.5L200.0 693.8L204.2 715.0L208.0 708.0L212.0 722.5L216.2 728.0L220.0 719.5L224.2 722.5L228.0 733.8L232.5 738.0L236.2 738.0L240.0 727.0L244.2 746.2L248.2 752.5L252.5 741.2L256.2 751.2L260.0 731.2L264.2 692.5L268.0 715.0L271.8 730.5L276.2 719.5L280.5 721.2L284.5 738.8L288.2 730.0L292.0 722.0L296.2 700.0L300.5 735.0L304.2 718.8L308.2 700.0L312.5 701.2L316.2 703.8L320.5 687.5L324.5 689.5L328.8 678.8L332.5 699.2L336.8 675.0L340.8 683.8L344.5 678.0L348.8 693.8L356.8 691.2L360.8 736.2L364.5 745.0L368.8 731.2L372.5 745.0L376.2 755.0L380.5 765.0L384.5 759.5L388.8 765.8L393.0 767.0L396.8 752.5L400.5 717.5L404.5 695.0L408.2 688.0L412.5 708.0L416.2 700.5L420.5 703.0L425.0 721.2L428.8 689.5L432.5 653.8L437.0 647.5L441.2 631.2L445.0 619.5L449.2 617.5L453.2 586.8L457.0 592.0L460.8 618.8L465.0 623.8L468.8 608.2L473.0 606.8L477.0 613.0L481.2 627.0L485.5 606.2L489.5 615.0L493.2 628.8L497.5 645.8L501.2 620.5L505.0 615.5L509.2 618.8L513.0 598.8L517.0 562.5L521.8 536.2L525.0 557.5L529.2 562.5L533.2 560.0L537.5 583.0L541.2 587.0L545.5 591.2L549.2 567.5L553.2 556.2L557.5 571.2L561.8 557.5L565.5 546.8L569.5 583.8L573.8 603.0L577.5 605.0L581.8 575.0L585.5 583.2L590.0 567.0L593.8 590.0L598.0 608.8L601.8 597.5L605.8 605.8L610.0 590.0L613.8 580.0L617.5 551.2L621.8 537.0L625.8 537.0L630.0 547.5L633.8 555.0L638.0 563.8L641.8 519.5L645.8 515.0L649.5 503.8L653.8 523.0L657.5 515.0L662.0 519.5L665.8 502.5L670.0 472.5L674.2 437.0L678.0 434.5L682.0 451.2L685.8 464.5L690.0 457.0L694.2 436.2L698.2 478.8L702.0 468.8L706.2 450.8L710.5 473.8L714.2 470.8L718.2 470.8L722.5 467.0L726.2 500.0L730.0 517.5L734.2 508.0L738.2 521.8L742.5 537.5L746.8 545.0L750.8 545.5L754.5 566.2L758.2 575.0L762.5 563.0L766.2 573.8L770.5 589.5L774.2 552.5L778.2 542.0L782.5 536.2L786.8 523.2L790.5 534.5L794.5 547.5L798.8 550.0L802.5 568.0L806.8 568.8L810.8 573.8L814.5 576.2L818.8 557.0L822.5 563.0L826.8 567.0L830.5 579.5L834.5 557.5L838.8 563.0L843.0 564.2L846.8 526.2L850.8 503.8L854.5 458.8L858.8 448.0L863.0 443.0L866.8 425.0L870.8 420.0L875.0 411.2L878.8 404.5L883.0 416.8L887.0 413.0L890.8 404.5L895.0 419.2L899.2 413.0L903.0 417.5L907.0 426.8L911.2 405.0L915.5 430.0L919.5 430.0L923.2 417.0L927.0 361.2L931.2 365.5L935.0 347.5L939.2 333.8L943.2 323.2L947.5 327.5L951.2 333.0L955.0 350.8L959.2 345.0L963.2 338.8L967.5 310.8L971.2 358.8L975.0 378.8L979.5 395.0L983.2 388.0L987.0 386.2L991.2 369.2L995.0 390.0L999.2 404.2L1003.2 403.2L1007.0 435.0L1011.2 442.0L1015.5 440.0L1019.2 438.2L1023.2 463.8L1027.5 470.0L1031.8 474.2L1035.5 456.2L1039.2 443.8L1043.8 411.2L1047.5 420.5L1051.8 429.2L1055.8 457.5L1060.0 468.8L1063.8 491.2L1068.0 490.8" fill="none" stroke="#0e4f96" stroke-width="1.8" stroke-linejoin="round"/>
</svg>

<!-- below chart -->
<svg class="abs" style="left:30px;top:846px" width="90" height="32" viewBox="30 846 90 32"><defs><linearGradient id="lg" x1="0" y1="0" x2="0" y2="1"><stop offset="0" stop-color="#c9423d"/><stop offset="0.45" stop-color="#b3241f"/><stop offset="1" stop-color="#9a1916"/></linearGradient></defs><rect x="32" y="849" width="33.5" height="27" rx="5.5" fill="url(#lg)"/><text x="35.3" y="871.8" font-family="Liberation Sans" font-weight="bold" font-size="21" fill="#fff" stroke="#fff" stroke-width="1.1" textLength="27.6" lengthAdjust="spacingAndGlyphs">on</text><text x="67.5" y="871.8" font-family="Liberation Sans" font-weight="bold" font-size="15.4" fill="#6b6b6b" stroke="#6b6b6b" stroke-width="0.9" textLength="45.5" lengthAdjust="spacingAndGlyphs">LINE</text><text x="68" y="858.3" font-family="Liberation Sans" font-weight="bold" font-size="7.2" fill="#9a9a9a" textLength="47" lengthAdjust="spacingAndGlyphs">Tradesignal®</text></svg>
<div class="abs" style="left:121.5px;top:856px;font-size:12.55px;color:#0c3d80;line-height:16px"><b style="font-size:14px">»</b> als interaktiven Chart öffnen</div>
<div class="abs" style="left:884px;top:856px;font-size:12.55px;color:#0c3d80;line-height:16px"><b style="font-size:14px">»</b> Chart-Einstellungen als Lesezeichen</div>
<div class="abs" style="left:20.5px;top:889px;font-size:15.8px;font-weight:bold;color:#0c3d80;line-height:20px">Erklärung Chart-Indikatoren</div>
<div class="abs" style="left:20px;top:919px;width:1096px;height:105px;background:#f2f0f1"></div>
<div class="abs" style="left:560.5px;top:942px;width:1px;height:82px;background:#cfcfcf"></div>
<div class="abs ex b" style="left:43px;top:943px;font-size:12.36px">Bollinger Band:</div>
<div class="abs ex" style="left:43px;top:962px">Die Bollinger Bänder werden in der Chartanalyse verwendet um Trendveränderungen<br>zu ermitteln. Dabei werden drei Werte berechnet, die dabei helfen sollen die<br>Trendveränderung sichtbar zu machen. Die mittlere Linie stellt den gleitenden<br>Durchschnitt der letzten 20 Tage dar. Die Linien darüber und darunter werden ermittelt,</div>
<div class="abs ex b" style="left:595px;top:943px;font-size:12.36px">MACD:</div>
<div class="abs ex" style="left:595px;top:962px">Der MACD (Moving Average Convergence/Divergence) wird in der Chartanalyse<br>genutzt um Trends sowie Kauf-und Verkaufssignale zu erkennen. Dabei werden zwei<br>exponentiell gewichtete gleitende Durchschnitte (26 und 12 Tage) berechnet und<br>voneinander subtrahiert. Des Weiteren wird eine Signallinie berechnet. Hierbei handelt</div>

<!-- right column -->
<div class="abs" style="left:1131px;top:40px;width:8px;height:984px;background:linear-gradient(90deg,#e4e4e4 0,#dedede 22%,#f0f0f0 55%,#fefefe 100%)"></div>
<div class="abs" style="left:1139px;top:40px;width:227px;height:984px;background:#fefefe"></div>
<div class="abs" style="left:1139.2px;top:40px;width:181.7px;height:414.8px;border:2px solid #94628b;border-top:none;background:#fffefe"></div>
<div class="abs" style="left:1143.2px;top:24px;font-size:30px;color:#8e0e6e;line-height:31.8px;letter-spacing:1.1px;-webkit-text-stroke:.35px #8e0e6e;clip-path:inset(16px 0 0 0)"><span style="letter-spacing:1.3px">verrät</span><br><span style="letter-spacing:1.45px">Ihnen die</span><br><span style="letter-spacing:.95px">Top-Aktien</span><br><span style="letter-spacing:1.6px">für 2016!</span></div>
<div class="abs" style="left:1209px;top:166px;width:12px;height:12px;border-radius:6px;background:#b4b4b4"></div>
<div class="abs" style="left:1239px;top:166px;width:12px;height:12px;border-radius:6px;border:1.3px solid #999;background:#fff"></div>
<div class="abs" style="left:1162px;top:200px;width:136px;height:91px;border-radius:14px;background:#ad3f87"></div>
<svg class="abs" style="left:1218px;top:228px" width="26" height="34" viewBox="0 0 26 34"><path d="M6 3L21 17L6 31" fill="none" stroke="#fff" stroke-width="3.6"/></svg>
</body></html>
